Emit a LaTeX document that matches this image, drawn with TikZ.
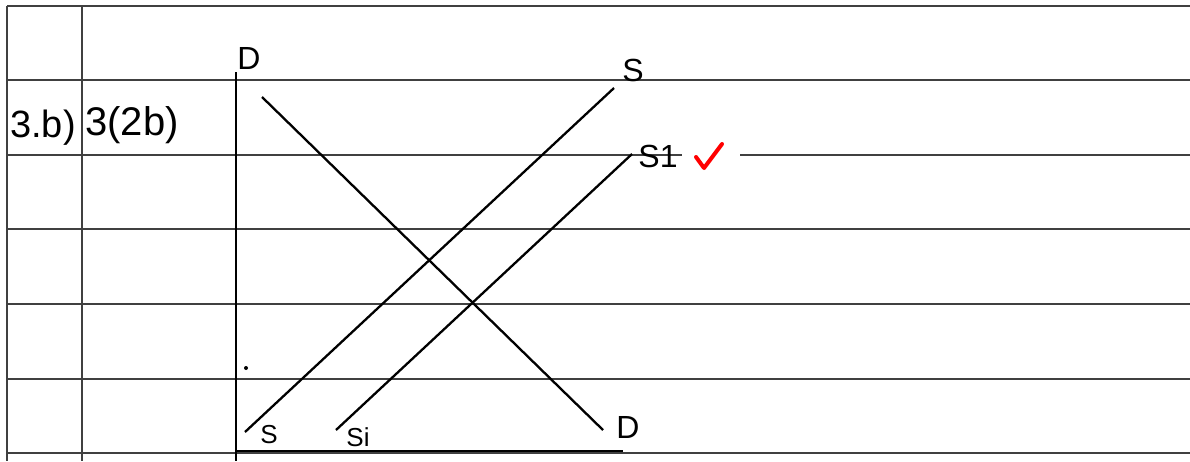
\documentclass[tikz,border=0pt]{standalone}
\usepackage{fontspec}
\setmainfont{Liberation Sans}
\begin{document}
\begin{tikzpicture}[x=1pt,y=-1pt,
  rule/.style={line width=1.7pt,black!75},
  curve/.style={line width=2.3pt,black},
  lab/.style={inner sep=0pt,font=\fontsize{32}{32}\selectfont},
  smalllab/.style={inner sep=0pt,font=\fontsize{26}{26}\selectfont},
  tick/.style={line width=4pt,red,line join=round,line cap=round}]
\useasboundingbox (0,0) rectangle (1190,461);
\fill[white] (0,0) rectangle (1190,461);
% ruled lines
\foreach \yy in {6,80,229,304,379,453}
  \draw[rule] (7,\yy) -- (1190,\yy);
\draw[rule] (7,155) -- (682,155);
\draw[rule] (740,155) -- (1190,155);
% vertical columns
\draw[rule] (7,6) -- (7,461);
\draw[rule] (82,6) -- (82,461);
% axes
\coordinate (ytop) at (236,72);
\coordinate (origin) at (236,461);
\coordinate (xend) at (623,451);
\draw[curve] (ytop) -- (origin);
\draw[curve] (236,451) -- (xend);
% curves
\coordinate (d1) at (262,97);
\coordinate (d2) at (603,430);
\coordinate (s1) at (245,432);
\coordinate (s2) at (614,88);
\coordinate (t1) at (336,430);
\coordinate (t2) at (632,154);
\draw[curve] (d1) -- (d2);
\draw[curve] (s1) -- (s2);
\draw[curve] (t1) -- (t2);
% labels
\node[lab,font=\fontsize{38}{38}\selectfont] (qlab) at (43,128) {3.b)};
\node[lab,font=\fontsize{40}{40}\selectfont] (mark) at (132,125) {3(2b)};
\node[lab] (dtop) at (249,58) {D};
\node[lab] (stop) at (633,70) {S};
\node[lab] (s1top) at (658,156) {S1};
\node[smalllab] (sbot) at (269,435) {S};
\node[smalllab] (s1bot) at (358,437) {Si};
\node[lab] (dbot) at (628,427) {D};
\fill (246,368) circle (2);
% check mark
\coordinate (c1) at (696,157);
\coordinate (c2) at (704,168);
\coordinate (c3) at (722,144);
\draw[tick] (c1) -- (c2) -- (c3);
\end{tikzpicture}
\end{document}
